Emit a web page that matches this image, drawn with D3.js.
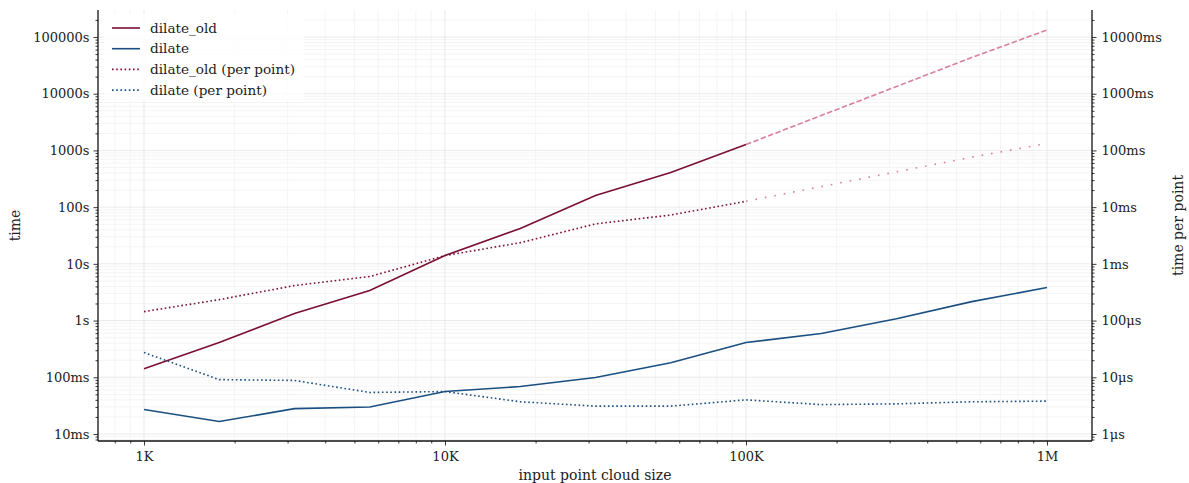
<!DOCTYPE html>
<html>
<head>
<meta charset="utf-8">
<script src="https://cdn.jsdelivr.net/npm/d3@7"></script>
<style>
  html, body { margin: 0; padding: 0; background: #fff; }
  svg { display: block; }
  svg text { font-family: "DejaVu Serif", serif; }
</style>
</head>
<body>
<svg id="chart" width="1189" height="483"></svg>
<script>
// Input sizes (quarter-decade steps)
const sizes = [1000, 1778, 3162, 5623, 10000, 17783, 31623, 56234, 100000];
const sizesExt = [100000, 177828, 316228, 562341, 1000000];
const sizesAll = [1000, 1778, 3162, 5623, 10000, 17783, 31623, 56234, 100000, 177828, 316228, 562341, 1000000];

// Total time in seconds
const dilateOld = [0.142, 0.41, 1.33, 3.38, 14, 42, 160, 408, 1270];
const dilateOldExt = [1270, 4130, 13400, 43500, 133000];
const dilateNew = [0.027, 0.0166, 0.028, 0.030, 0.056, 0.0686, 0.099, 0.18, 0.41, 0.59, 1.08, 2.16, 3.82];

// Time per point in seconds
const dilateOldPer = [1.44e-4, 2.34e-4, 4.14e-4, 5.97e-4, 1.4e-3, 2.36e-3, 5.06e-3, 7.26e-3, 1.27e-2];
const dilateOldPerExt = [1.27e-2, 2.3e-2, 4.2e-2, 7.6e-2, 1.33e-1];
const dilateNewPer = [2.73e-5, 9.1e-6, 8.8e-6, 5.4e-6, 5.6e-6, 3.7e-6, 3.1e-6, 3.1e-6, 4.0e-6, 3.3e-6, 3.4e-6, 3.7e-6, 3.8e-6];

const xTicks = [1e3, 1e4, 1e5, 1e6];
const xTickLabels = ["1K", "10K", "100K", "1M"];
const yTicks = [1e-2, 1e-1, 1, 10, 100, 1e3, 1e4, 1e5];
const yTickLabels = ["10ms", "100ms", "1s", "10s", "100s", "1000s", "10000s", "100000s"];
const y2Ticks = [1e-6, 1e-5, 1e-4, 1e-3, 1e-2, 1e-1, 1, 10];
const y2TickLabels = ["1μs", "10μs", "100μs", "1ms", "10ms", "100ms", "1000ms", "10000ms"];

const legendItems = ["dilate_old", "dilate", "dilate_old (per point)", "dilate (per point)"];

const RED = "#7a0f33";
const BLUE = "#1b4f80";
const PINK = "#d9809c";
const FONT = "DejaVu Serif";

const svg = d3.select("#chart");
const L = 98, R = 1092, T = 10, B = 441;

const x = d3.scaleLog().domain([Math.pow(10, 2.8472), Math.pow(10, 6.1495)]).range([L, R]);
const y = d3.scaleLog().domain([Math.pow(10, -2.1234), Math.pow(10, 5.476)]).range([B, T]);
const y2 = d3.scaleLog().domain([Math.pow(10, -6.1234), Math.pow(10, 1.476)]).range([B, T]);

// minor tick values within domain
function minors(scale) {
  const [a, b] = scale.domain();
  const out = [];
  for (let e = Math.floor(Math.log10(a)); e <= Math.ceil(Math.log10(b)); e++) {
    for (let k = 2; k <= 9; k++) {
      const v = k * Math.pow(10, e);
      if (v >= a && v <= b) out.push(v);
    }
  }
  return out;
}
const xMinor = minors(x), yMinor = minors(y);

// grid
const grid = svg.append("g").attr("class", "grid");
grid.selectAll("line.xmin").data(xMinor).join("line")
  .attr("x1", d => x(d)).attr("x2", d => x(d)).attr("y1", T).attr("y2", B)
  .attr("stroke", "#f1f1f1").attr("stroke-width", 0.8);
grid.selectAll("line.ymin").data(yMinor).join("line")
  .attr("y1", d => y(d)).attr("y2", d => y(d)).attr("x1", L).attr("x2", R)
  .attr("stroke", "#f1f1f1").attr("stroke-width", 0.8);
grid.selectAll("line.xmaj").data(xTicks).join("line")
  .attr("x1", d => x(d)).attr("x2", d => x(d)).attr("y1", T).attr("y2", B)
  .attr("stroke", "#e4e4e4").attr("stroke-width", 0.8);
grid.selectAll("line.ymaj").data(yTicks).join("line")
  .attr("y1", d => y(d)).attr("y2", d => y(d)).attr("x1", L).attr("x2", R)
  .attr("stroke", "#e4e4e4").attr("stroke-width", 0.8);

// series
const line = (xs, ys, sc) => d3.line().x((d, i) => x(xs[i])).y(d => sc(d))(ys);
const plot = svg.append("g");
function series(xs, ys, sc, color, dash) {
  plot.append("path").attr("d", line(xs, ys, sc))
    .attr("fill", "none").attr("stroke", color).attr("stroke-width", 1.6)
    .attr("stroke-dasharray", dash);
}
series(sizesExt, dilateOldExt, y, PINK, "5.5,2.4");
series(sizesExt, dilateOldPerExt, y2, PINK, "1.6,8");
series(sizes, dilateOld, y, RED, null);
series(sizesAll, dilateNew, y, BLUE, null);
series(sizes, dilateOldPer, y2, RED, "1.6,2.6");
series(sizesAll, dilateNewPer, y2, BLUE, "1.6,2.6");

// axes
function styleAxis(g) {
  g.attr("font-family", FONT);
  g.selectAll(".domain").remove();
  g.selectAll("line").attr("stroke", "#222").attr("stroke-width", 0.9);
  g.selectAll("text").attr("font-family", FONT).attr("font-size", 13).attr("fill", "#222");
}
const xAxis = svg.append("g").attr("transform", `translate(0,${B})`)
  .call(d3.axisBottom(x).tickValues(xTicks).tickFormat((d, i) => xTickLabels[i]).tickSize(4.5).tickPadding(6));
styleAxis(xAxis);
const xAxisMin = svg.append("g").attr("transform", `translate(0,${B})`)
  .call(d3.axisBottom(x).tickValues(xMinor).tickFormat("").tickSize(2.5));
styleAxis(xAxisMin);

const yAxis = svg.append("g").attr("transform", `translate(${L},0)`)
  .call(d3.axisLeft(y).tickValues(yTicks).tickFormat((d, i) => yTickLabels[i]).tickSize(4.5).tickPadding(4));
styleAxis(yAxis);
const yAxisMin = svg.append("g").attr("transform", `translate(${L},0)`)
  .call(d3.axisLeft(y).tickValues(yMinor).tickFormat("").tickSize(2.5));
styleAxis(yAxisMin);

const y2Minor = minors(y2);
const y2Axis = svg.append("g").attr("transform", `translate(${R},0)`)
  .call(d3.axisRight(y2).tickValues(y2Ticks).tickFormat((d, i) => y2TickLabels[i]).tickSize(4.5).tickPadding(5));
styleAxis(y2Axis);
const y2AxisMin = svg.append("g").attr("transform", `translate(${R},0)`)
  .call(d3.axisRight(y2).tickValues(y2Minor).tickFormat("").tickSize(2.5));
styleAxis(y2AxisMin);

// spines: left, bottom, right
const sp = svg.append("g").attr("stroke", "#111").attr("stroke-width", 1.3);
sp.append("line").attr("x1", L).attr("x2", L).attr("y1", T).attr("y2", B);
sp.append("line").attr("x1", R).attr("x2", R).attr("y1", T).attr("y2", B);
sp.append("line").attr("x1", L).attr("x2", R).attr("y1", B).attr("y2", B);

// axis titles
svg.append("text").attr("x", (L + R) / 2).attr("y", 480).attr("text-anchor", "middle")
  .attr("font-family", FONT).attr("font-size", 14).attr("fill", "#222").text("input point cloud size");
svg.append("text").attr("transform", `translate(20,${(T + B) / 2}) rotate(-90)`).attr("text-anchor", "middle")
  .attr("font-family", FONT).attr("font-size", 14).attr("fill", "#222").text("time");
svg.append("text").attr("transform", `translate(1183,${(T + B) / 2}) rotate(-90)`).attr("text-anchor", "middle")
  .attr("font-family", FONT).attr("font-size", 14).attr("fill", "#222").text("time per point");

// legend
const lg = svg.append("g");
lg.append("rect").attr("x", 104).attr("y", 15).attr("width", 200).attr("height", 86)
  .attr("fill", "#fff").attr("opacity", 0.8);
const legendStyle = [[RED, null], [BLUE, null], [RED, "1.6,2.6"], [BLUE, "1.6,2.6"]];
legendItems.forEach((name, i) => {
  const yy = 28 + i * 20.7;
  lg.append("line").attr("x1", 112).attr("x2", 140).attr("y1", yy).attr("y2", yy)
    .attr("stroke", legendStyle[i][0]).attr("stroke-width", 1.6)
    .attr("stroke-dasharray", legendStyle[i][1]);
  lg.append("text").attr("x", 150).attr("y", yy + 4.5)
    .attr("font-family", FONT).attr("font-size", 13.6).attr("fill", "#222").text(name);
});
</script>
</body>
</html>
